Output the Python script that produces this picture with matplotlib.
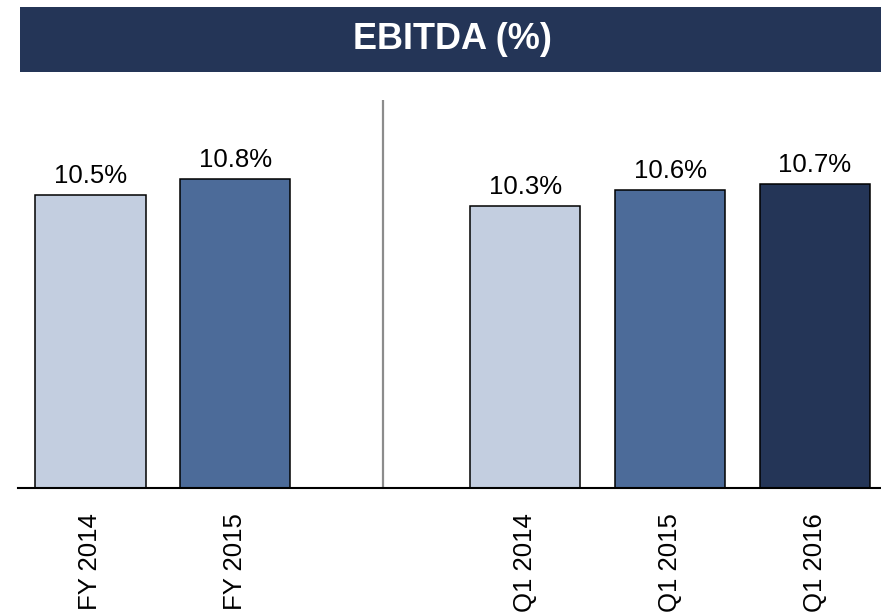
import matplotlib
matplotlib.use("Agg")
import matplotlib.pyplot as plt
from matplotlib.patches import Rectangle

plt.rcParams['font.family'] = ['Liberation Sans', 'DejaVu Sans']

categories = ["FY 2014", "FY 2015", "Q1 2014", "Q1 2015", "Q1 2016"]
positions = [0, 1, 3, 4, 5]
values = [10.5, 10.8, 10.3, 10.6, 10.7]
value_labels = ["10.5%", "10.8%", "10.3%", "10.6%", "10.7%"]
colors = ["#C3CEE0", "#4C6B99", "#C3CEE0", "#4C6B99", "#243557"]
title = "EBITDA (%)"

W, H = 881, 615
fig = plt.figure(figsize=(W / 100, H / 100), dpi=100)

# Title banner
fig.add_artist(Rectangle((20 / W, 1 - 72 / H), (W - 20) / W, 65 / H,
                         transform=fig.transFigure, facecolor="#243557",
                         edgecolor="none"))
fig.text(452 / W, 1 - 39.5 / H, title, color="white", fontsize=26,
         fontweight="bold", ha="center", va="center")

ax = fig.add_axes([18 / W, (H - 488) / H, (W - 18) / W, 388 / H])
ymin = 5.18
ax.bar(positions, [v - ymin for v in values], bottom=ymin, width=0.76,
       color=colors, edgecolor="black", linewidth=1.1, zorder=2)
for p, v, lab in zip(positions, values, value_labels):
    ax.annotate(lab, (p, v), xytext=(0, 5), textcoords="offset points",
                ha="center", va="bottom", fontsize=18.5)

ax.axvline(2.02, color="#8c8c8c", lw=1.6, zorder=1)

ax.set_xlim(-0.5, 5.455)
ax.set_ylim(ymin, ymin + 388 / 55)
ax.set_xticks(positions)
ax.set_xticklabels(categories, rotation=90, fontsize=18.5)
ax.tick_params(axis="x", length=0, pad=18)
ax.set_yticks([])
for s in ["top", "right", "left"]:
    ax.spines[s].set_visible(False)
ax.spines["bottom"].set_linewidth(1.5)
ax.spines["bottom"].set_zorder(3)

fig.savefig("out.png", dpi=100)
